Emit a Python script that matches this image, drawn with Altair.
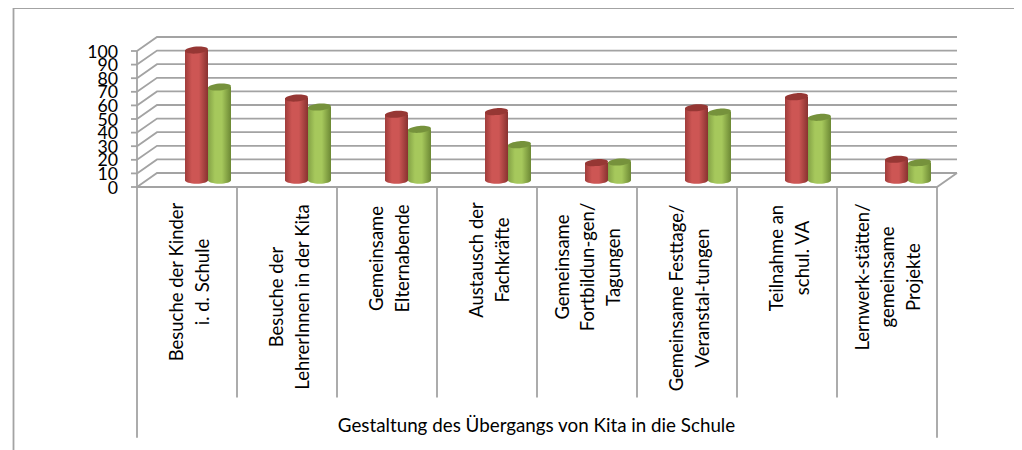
import altair as alt
import pandas as pd

# ---- data ----
CATEGORIES = [
    "Besuche der Kinder\ni. d. Schule",
    "Besuche der\nLehrerInnen in der Kita",
    "Gemeinsame\nElternabende",
    "Austausch der\nFachkräfte",
    "Gemeinsame\nFortbildun-gen/\nTagungen",
    "Gemeinsame Festtage/\nVeranstal-tungen",
    "Teilnahme an\nschul. VA",
    "Lernwerk-stätten/\ngemeinsame\nProjekte",
]
RED = [95.7, 60.4, 48.5, 50.4, 12.9, 53.3, 61.4, 15.4]
GREEN = [68.5, 53.8, 37.4, 26.1, 13.4, 50.1, 46.2, 12.9]
TICKS = list(range(0, 101, 10))
AXIS_TITLE = "Gestaltung des Übergangs von Kita in die Schule"
LABEL_CENTER_PX = [282, 297, 258.5, 260, 267, 298, 258, 277]

# ---- layout ----
W, H = 1006, 442
PX_X0, PX_Y0 = 137.0, 187.0      # image position of category 0 / value 0
PX_PER_CAT, PX_PER_VAL = 100.0, 1.36
DEPTH_X = 20 / PX_PER_CAT
DEPTH_Y = 14 / PX_PER_VAL
MID_DEPTH = 5.0


def ux(px):
    return (px - PX_X0) / PX_PER_CAT


def uy(py):
    return (PX_Y0 - py) / PX_PER_VAL


X_SCALE = alt.Scale(domain=[ux(8), ux(8 + W)], range=[0, W], nice=False, zero=False)
Y_SCALE = alt.Scale(domain=[uy(8 + H), uy(8)], range=[H, 0], nice=False, zero=False)


def X(f):
    return alt.X(f, type="quantitative", scale=X_SCALE, axis=None)


def Y(f):
    return alt.Y(f, type="quantitative", scale=Y_SCALE, axis=None)


LINE = "#a3a3a3"
LW = 1.8
TEXT = "#000000"
FONT = "Lato"

# gridlines (left wall + back wall)
grid_rows = []
for t in TICKS:
    grid_rows += [
        {"t": t, "o": 0, "x": 0, "y": t},
        {"t": t, "o": 1, "x": DEPTH_X, "y": t + DEPTH_Y},
        {"t": t, "o": 2, "x": 8 + DEPTH_X, "y": t + DEPTH_Y},
    ]
grid = alt.Chart(pd.DataFrame(grid_rows)).mark_line(color=LINE, strokeWidth=LW).encode(
    x=X("x"), y=Y("y"), detail="t:N", order="o:Q"
)

# floor front edge and right edge
floor = alt.Chart(pd.DataFrame([
    {"o": 0, "x": 0, "y": 0},
    {"o": 1, "x": 8, "y": 0},
    {"o": 2, "x": 8 + DEPTH_X, "y": DEPTH_Y},
])).mark_line(color=LINE, strokeWidth=LW).encode(x=X("x"), y=Y("y"), order="o:Q")

# vertical axis line and ticks
axis_line = alt.Chart(pd.DataFrame([{"x": 0, "y": 0, "y2": 100}])).mark_rule(
    color=LINE, strokeWidth=LW
).encode(x=X("x"), y=Y("y"), y2="y2:Q")

tick_df = pd.DataFrame({"t": TICKS, "x": ux(131), "x2": 0.0})
ticks = alt.Chart(tick_df).mark_rule(color=LINE, strokeWidth=LW).encode(
    x=X("x"), x2="x2:Q", y=Y("t")
)
tick_labels = alt.Chart(tick_df.assign(lx=ux(118), lab=[str(t) for t in TICKS])).mark_text(
    align="right", baseline="middle", font=FONT, fontSize=17.7, color=TEXT, dy=1.5
).encode(x=X("lx"), y=Y("t"), text="lab:N")

# category separators
sep_df = pd.DataFrame({
    "x": list(range(9)),
    "y": 0.0,
    "y2": [uy(437.7)] + [uy(397.5)] * 7 + [uy(437.7)],
})
seps = alt.Chart(sep_df).mark_rule(color=LINE, strokeWidth=LW).encode(
    x=X("x"), y=Y("y"), y2="y2:Q"
)

# outer frame
frame_left = alt.Chart(pd.DataFrame([{"x": ux(13.5), "y": uy(8), "y2": uy(8 + H)}])).mark_rule(
    color=LINE, strokeWidth=LW
).encode(x=X("x"), y=Y("y"), y2="y2:Q")
frame_top = alt.Chart(pd.DataFrame([{"x": ux(13), "x2": ux(8 + W), "y": uy(8.2)}])).mark_rule(
    color=LINE, strokeWidth=LW
).encode(x=X("x"), x2="x2:Q", y=Y("y"))


def grad(a, b, c):
    return alt.LinearGradient(
        gradient="linear", x1=0, y1=0, x2=1, y2=0,
        stops=[
            alt.GradientStop(offset=0, color=a),
            alt.GradientStop(offset=0.3, color=b),
            alt.GradientStop(offset=0.6, color=b),
            alt.GradientStop(offset=1, color=c),
        ],
    )


ELLIPSE = "M -1 0 A 1 0.3 0 1 0 1 0 A 1 0.3 0 1 0 -1 0 Z"
BAR_W = 0.23
CAP_SIZE = (BAR_W * PX_PER_CAT) ** 2


def series(values, start, edge_l, mid, edge_r, cap):
    df = pd.DataFrame({
        "x0": [i + start for i in range(8)],
        "x1": [i + start + BAR_W for i in range(8)],
        "xc": [i + start + BAR_W / 2 for i in range(8)],
        "base": [MID_DEPTH] * 8,
        "top": [v + MID_DEPTH for v in values],
    })
    g = grad(edge_l, mid, edge_r)
    body = alt.Chart(df).mark_rect(fill=g).encode(
        x=X("x0"), x2="x1:Q", y=Y("top"), y2="base:Q"
    )
    bottom = alt.Chart(df).mark_point(
        shape=ELLIPSE, size=CAP_SIZE, filled=True, fill=g, opacity=1
    ).encode(x=X("xc"), y=Y("base"))
    topcap = alt.Chart(df).mark_point(
        shape=ELLIPSE, size=CAP_SIZE, filled=True, fill=cap, opacity=1, angle=355
    ).encode(x=X("xc"), y=Y("top"))
    return bottom + body + topcap


reds = series(RED, 0.48, "#a03c3a", "#cd5654", "#883230", "#963734")
greens = series(GREEN, 0.71, "#84a246", "#a6c85c", "#6c8834", "#76923c")

# category labels: the first line of a block sits at the anchor
FIRST_LINE_OFFSET = {2: 0.40, 3: 0.257}
lab_df = pd.DataFrame({
    "x": [i + FIRST_LINE_OFFSET[c.count("\n") + 1] for i, c in enumerate(CATEGORIES)],
    "y": [uy(p) for p in LABEL_CENTER_PX],
    "lab": CATEGORIES,
})
labels = alt.Chart(lab_df).mark_text(
    angle=270, align="center", baseline="middle", lineBreak="\n", lineHeight=25.5,
    font=FONT, fontSize=18.5, color=TEXT
).encode(x=X("x"), y=Y("y"), text="lab:N")

title = alt.Chart(pd.DataFrame([{"x": ux(536.5), "y": uy(426), "lab": AXIS_TITLE}])).mark_text(
    align="center", baseline="middle", font=FONT, fontSize=18.8, color=TEXT
).encode(x=X("x"), y=Y("y"), text="lab:N")

chart = alt.layer(
    frame_left, frame_top, grid, floor, axis_line, ticks, seps,
    reds, greens, tick_labels, labels, title
).properties(width=W, height=H, padding=0, autosize=alt.AutoSizeParams(type="none")).configure_view(stroke=None)

chart.save("out.html", embed_options={"renderer": "svg", "actions": False})
